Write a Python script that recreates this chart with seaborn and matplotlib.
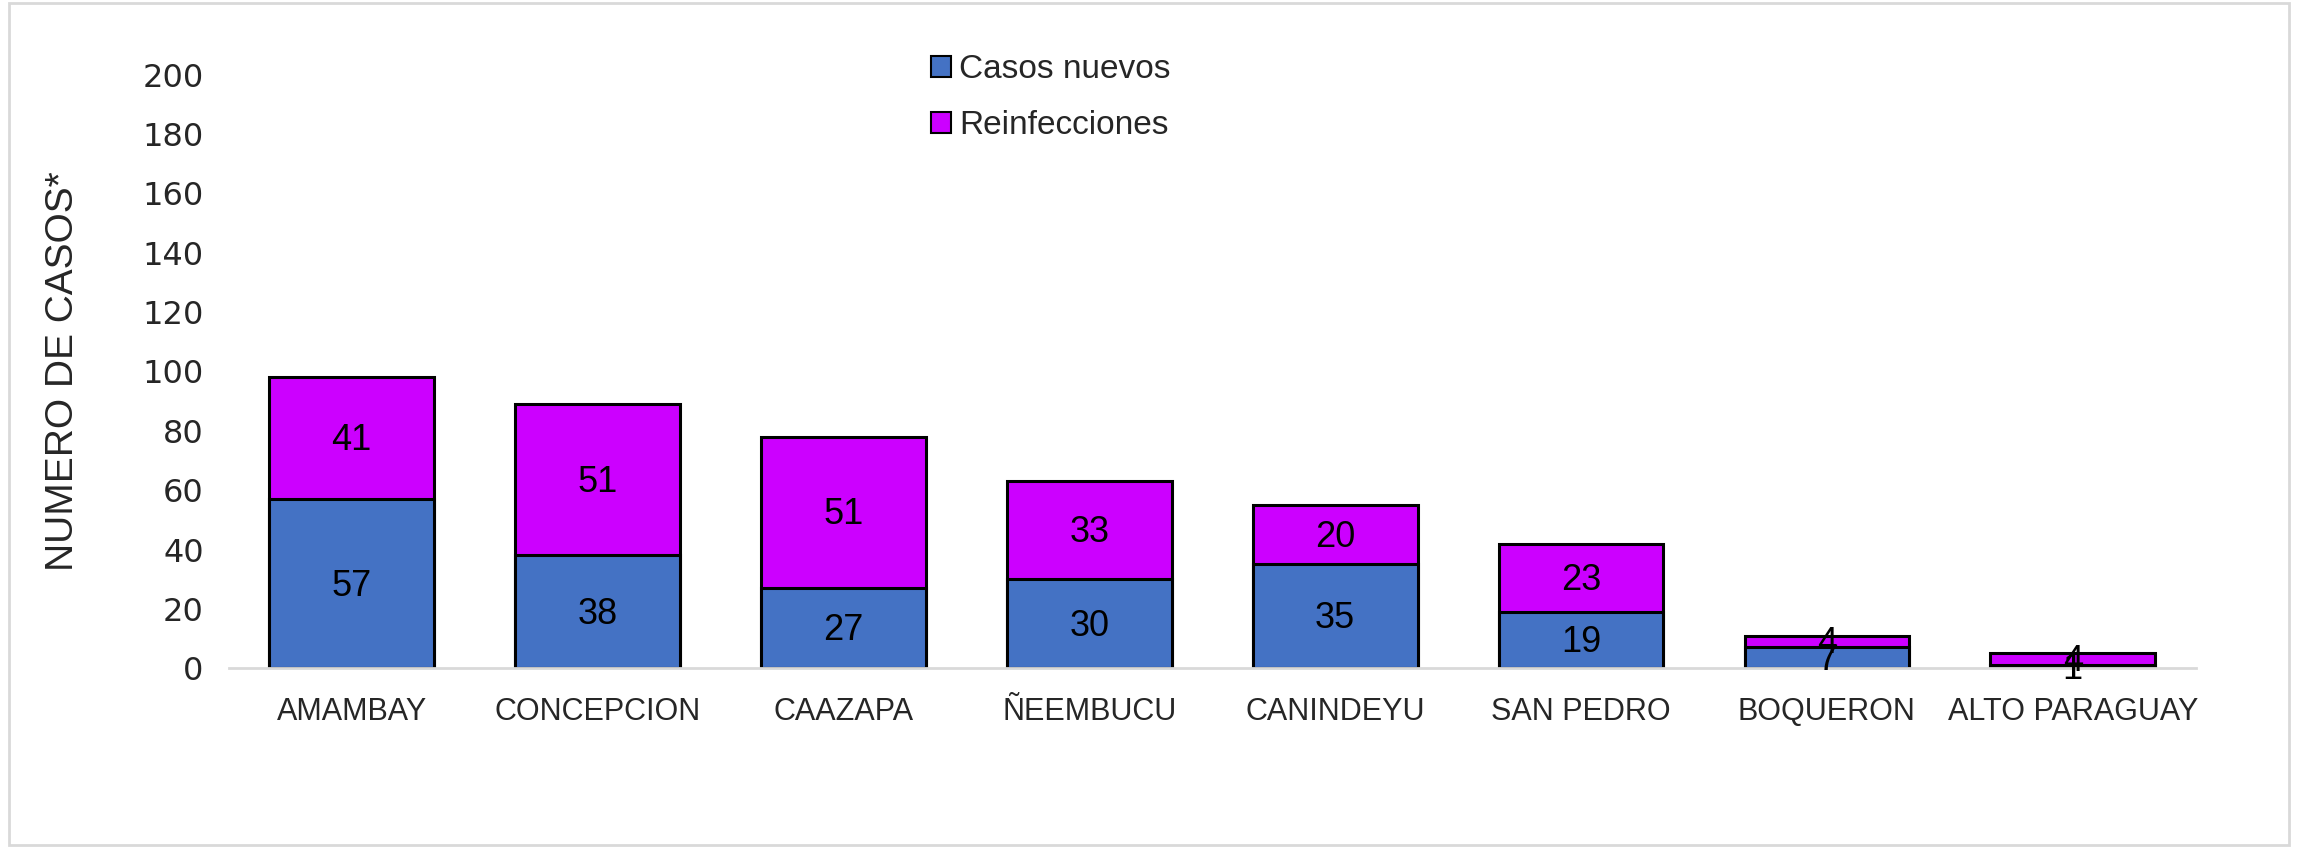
import matplotlib
matplotlib.use("Agg")
import matplotlib.pyplot as plt
import seaborn as sns
import pandas as pd
from matplotlib.patches import Rectangle, Patch

departamentos = ['AMAMBAY', 'CONCEPCION', 'CAAZAPA', 'ÑEEMBUCU', 'CANINDEYU',
                 'SAN PEDRO', 'BOQUERON', 'ALTO PARAGUAY']
casos_nuevos = [57, 38, 27, 30, 35, 19, 7, 1]
reinfecciones = [41, 51, 51, 33, 20, 23, 4, 4]

df = pd.DataFrame({'dep': departamentos, 'nuevos': casos_nuevos, 'reinf': reinfecciones})
df['total'] = df['nuevos'] + df['reinf']

sns.set_theme(style="white")
plt.rcParams['font.family'] = ['Liberation Sans', 'DejaVu Sans']

azul = '#4472C4'
magenta = '#CC00FF'

fig = plt.figure(figsize=(22.98, 8.48), dpi=100)
ax = fig.add_axes([0.0995, 0.212, 0.856, 0.7])

# barra total (reinfecciones encima) y luego casos nuevos desde 0
sns.barplot(data=df, x='dep', y='total', color=magenta, saturation=1, width=0.67,
            edgecolor='black', linewidth=2.2, ax=ax)
sns.barplot(data=df, x='dep', y='nuevos', color=azul, saturation=1, width=0.67,
            edgecolor='black', linewidth=2.2, ax=ax)

for i, row in df.iterrows():
    ax.text(i, row['nuevos'] / 2 - 0.8, str(row['nuevos']), ha='center', va='center',
            fontsize=26, color='black')
    ax.text(i, row['nuevos'] + row['reinf'] / 2 - 0.8, str(row['reinf']), ha='center',
            va='center', fontsize=26, color='black')

ax.set_ylim(0, 200)
ax.set_xlim(-0.5, len(departamentos) - 0.5)
ax.set_yticks(range(0, 201, 20))
ax.tick_params(axis='y', labelsize=23, length=0, pad=18)
ax.tick_params(axis='x', labelsize=22, length=0, pad=21)
for lab in ax.get_yticklabels():
    lab.set_family(['DejaVu Sans'])
ax.set_xlabel('')
ax.set_ylabel('NUMERO DE CASOS*', fontsize=28, labelpad=44)

for s in ['top', 'right', 'left']:
    ax.spines[s].set_visible(False)
ax.spines['bottom'].set_color('#D9D9D9')
ax.spines['bottom'].set_linewidth(2)

handles = [Patch(facecolor=azul, edgecolor='black', linewidth=1.5, label='Casos nuevos'),
           Patch(facecolor=magenta, edgecolor='black', linewidth=1.5, label='Reinfecciones')]
ax.legend(handles=handles, loc='upper center', bbox_to_anchor=(0.418, 1.085),
          frameon=False, prop={'size': 24},
          handlelength=0.6, handleheight=0.6, handletextpad=0.25, labelspacing=0.75)

fig.patches.append(Rectangle((0.004, 0.004), 0.992, 0.992, transform=fig.transFigure,
                             fill=False, edgecolor='#D9D9D9', linewidth=2))

fig.savefig('out.png', dpi=100)
